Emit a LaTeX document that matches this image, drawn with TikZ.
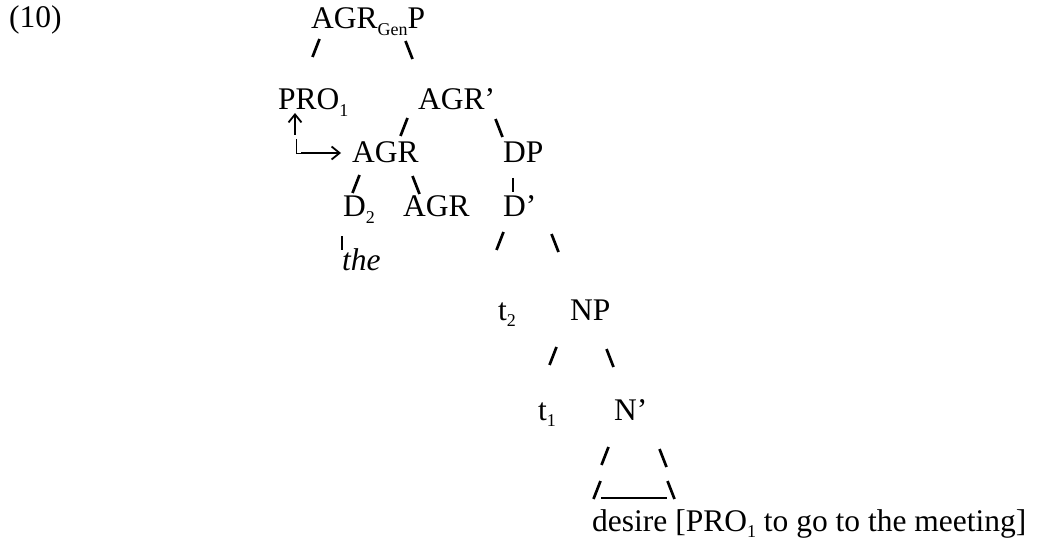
\documentclass[tikz,border=0pt]{standalone}
\usepackage{fontspec}
\setmainfont{Liberation Serif}
\usetikzlibrary{arrows.meta}
\newcommand{\lsub}[1]{\raisebox{-0.22em}{\fontsize{18}{18}\selectfont #1}}
\begin{document}
\begin{tikzpicture}[x=1pt,y=-1pt,
  lbl/.style={anchor=base west, inner sep=0pt, font=\fontsize{31.5}{36}\selectfont},
  sl/.style={line width=2.7pt},
  fsl/.pic={\draw[sl] (-3.5,9) -- (3.5,-9);},
  bsl/.pic={\draw[sl] (-3.5,-9) -- (3.5,9);},
  vsl/.pic={\draw[sl] (0,-7) -- (0,7);},
  mv/.style={line width=1.8pt, -{Straight Barb[length=8pt,width=13pt,line width=1.8pt]}}
]
\useasboundingbox (0,0) rectangle (1057,540);
% labels
\node[lbl] (ex) at (9,28) {(10)};
\node[lbl] (root) at (311,29) {AGR\lsub{Gen}P};
\node[lbl] (pro) at (278,110) {PRO\lsub{1}};
\node[lbl] (agrbar) at (418,110) {AGR’};
\node[lbl] (agr) at (352,163) {AGR};
\node[lbl] (dp) at (503,163) {DP};
\node[lbl] (d2) at (343,217) {D\lsub{2}};
\node[lbl] (agr2) at (403,217) {AGR};
\node[lbl] (dbar) at (503,217) {D’};
\node[lbl] (the) at (342,270) {\itshape the};
\node[lbl] (t2) at (498,320) {t\lsub{2}};
\node[lbl] (np) at (570,320) {NP};
\node[lbl] (t1) at (538,420) {t\lsub{1}};
\node[lbl] (nbar) at (614,420) {N’};
\node[lbl] (desire) at (592,531) {desire [PRO\lsub{1} to go to the meeting]};
% branches typed as slashes
\pic at (316,48) {fsl};
\pic at (409,50) {bsl};
\pic at (404,127) {fsl};
\pic at (499,128) {bsl};
\pic at (356,184) {fsl};
\pic at (416,185) {bsl};
\pic at (513,185) {vsl};
\pic at (342,243) {vsl};
\pic at (500,241) {fsl};
\pic at (555,243) {bsl};
\pic at (553,356) {fsl};
\pic at (610,358) {bsl};
\pic at (605,456) {fsl};
\pic at (663,458) {bsl};
\pic at (597,490) {fsl};
\pic at (671,490) {bsl};
\draw[line width=1.3pt] (601,498) -- (667,498);
% movement arrows
\coordinate (up0) at (295,135);
\coordinate (up1) at (295,113);
\draw[mv] (up0) -- (up1);
\coordinate (c0) at (296,139);
\coordinate (c1) at (296,153);
\coordinate (c2) at (301,153);
\coordinate (c3) at (341,153);
\draw[line width=0.8pt] (c0) -- (c1) -- (c2);
\draw[mv] (c2) -- (c3);
\end{tikzpicture}
\end{document}
